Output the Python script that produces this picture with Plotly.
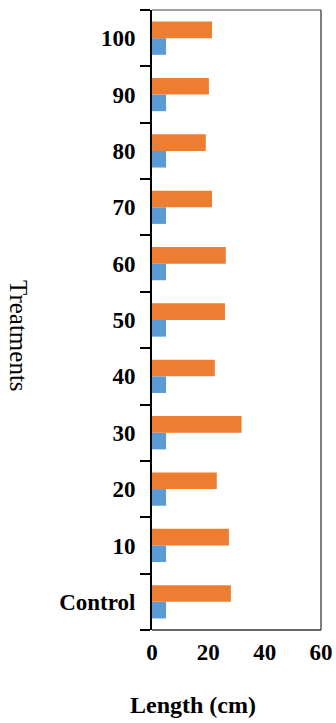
import plotly.graph_objects as go

categories = ["Control", "10", "20", "30", "40", "50", "60", "70", "80", "90", "100"]
orange_vals = [28.0, 27.3, 23.0, 31.8, 22.3, 25.9, 26.2, 21.3, 19.1, 20.2, 21.3]
blue_vals = [5, 5, 5, 5, 5, 5, 5, 5, 5, 5, 5]
x_ticks = [0, 20, 40, 60]

FONT = "Liberation Serif, Times New Roman, serif"

fig = go.Figure()
fig.add_trace(go.Bar(y=categories, x=blue_vals, orientation="h",
                     marker=dict(color="#5B9BD5", line=dict(width=0)), name="A"))
fig.add_trace(go.Bar(y=categories, x=orange_vals, orientation="h",
                     marker=dict(color="#ED7D31", line=dict(width=0)), name="B"))

W, H = 336, 723
L, R, T, B = 152, 15, 10, 93
fig.update_layout(
    width=W, height=H,
    margin=dict(l=L, r=R, t=T, b=B, autoexpand=False),
    paper_bgcolor="white", plot_bgcolor="white",
    barmode="group", bargap=0.41, bargroupgap=0,
    showlegend=False,
    font=dict(family=FONT, color="black"),
    xaxis=dict(range=[0, 60], tickvals=x_ticks, showgrid=False, zeroline=False,
               showline=False, ticks="", automargin=False, ticklabelstandoff=6,
               tickfont=dict(family=FONT, size=23, color="black", weight="bold")),
    yaxis=dict(categoryorder="array", categoryarray=categories, showgrid=False,
               zeroline=False, showline=True, linecolor="black", linewidth=2,
               ticks="outside", ticklen=10, tickwidth=2, tickcolor="black",
               tickson="boundaries", automargin=False, ticklabelstandoff=10,
               tickfont=dict(family=FONT, size=23, color="black", weight="bold")),
    shapes=[
        dict(type="line", xref="paper", yref="paper", x0=0, x1=1, y0=1, y1=1,
             line=dict(color="#808080", width=1.5)),
        dict(type="line", xref="paper", yref="paper", x0=1, x1=1, y0=0, y1=1,
             line=dict(color="#555555", width=1.5)),
        dict(type="line", xref="paper", yref="paper", x0=0, x1=1, y0=0, y1=0,
             line=dict(color="#333333", width=1.5)),
    ],
    annotations=[
        dict(text="<b>Length (cm)</b>", xref="paper", yref="paper",
             x=(193 - L) / (W - L - R), y=-(705 - (H - B)) / (H - T - B),
             xanchor="center", yanchor="middle", showarrow=False,
             font=dict(family=FONT, size=24, color="black")),
        dict(text="Treatments", xref="paper", yref="paper",
             x=-(L - 19) / (W - L - R), y=1 - (336 - T) / (H - T - B),
             xanchor="center", yanchor="middle", textangle=90, showarrow=False,
             font=dict(family=FONT, size=25, color="black")),
    ],
)

fig.write_html("out.html")
